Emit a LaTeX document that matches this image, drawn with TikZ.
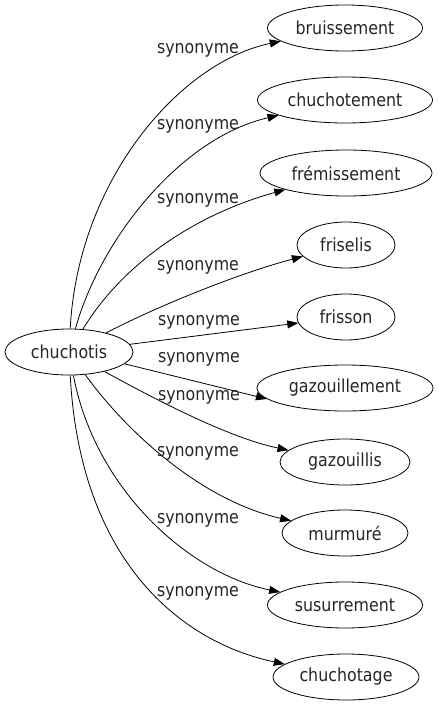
\documentclass[tikz,border=0pt]{standalone}
\usepackage{fontspec}
\setmainfont{DejaVu Sans}[FakeStretch=0.88]
\usetikzlibrary{shapes.geometric,arrows.meta}
\begin{document}
\begin{tikzpicture}[x=1pt,y=-1pt,
  word/.style={draw,ellipse,line width=0.8pt,minimum height=46pt,inner sep=0pt,font=\fontsize{18}{20}\selectfont,text=black!85},
  lab/.style={font=\fontsize{18}{20}\selectfont,text=black!85,inner sep=0pt},
  edge/.style={draw,line width=0.8pt,-{Triangle[length=11pt,width=8pt]}}]
\useasboundingbox (0,0) rectangle (439,707);
\node[word,minimum width=128pt] (c) at (69,352) {chuchotis};
\node[word,minimum width=155pt] (b1) at (345,28) {bruissement};
\node[word,minimum width=175pt] (b2) at (345,100) {chuchotement};
\node[word,minimum width=172pt] (b3) at (346,173) {frémissement};
\node[word,minimum width=98pt] (b4) at (346,245) {friselis};
\node[word,minimum width=98pt] (b5) at (346,317) {frisson};
\node[word,minimum width=176pt] (b6) at (345,388) {gazouillement};
\node[word,minimum width=130pt] (b7) at (345,462) {gazouillis};
\node[word,minimum width=126pt] (b8) at (345,533) {murmuré};
\node[word,minimum width=155pt] (b9) at (345,605) {susurrement};
\node[word,minimum width=146pt] (b10) at (346,677) {chuchotage};
\draw[edge] (c) .. controls (78,180) and (180,62) .. (b1);
\draw[edge] (c) .. controls (100,240) and (180,138) .. (b2);
\draw[edge] (c) .. controls (125,260) and (200,213) .. (b3);
\draw[edge] (c) .. controls (160,305) and (240,273) .. (b4);
\draw[edge] (c) -- (b5);
\draw[edge] (c.-12) -- (b6.188);
\draw[edge] (c) .. controls (160,402) and (230,438) .. (b7);
\draw[edge] (c) .. controls (125,430) and (200,500) .. (b8);
\draw[edge] (c) .. controls (95,490) and (190,574) .. (b9);
\draw[edge] (c) .. controls (80,560) and (180,642) .. (b10);
\node[lab] (l1) at (198,50) {synonyme};
\node[lab] (l2) at (198,126) {synonyme};
\node[lab] (l3) at (198,200) {synonyme};
\node[lab] (l4) at (198,267) {synonyme};
\node[lab] (l5) at (199,322) {synonyme};
\node[lab] (l6) at (199,359) {synonyme};
\node[lab] (l7) at (199,397) {synonyme};
\node[lab] (l8) at (198,453) {synonyme};
\node[lab] (l9) at (198,520) {synonyme};
\node[lab] (l10) at (198,593) {synonyme};
\end{tikzpicture}
\end{document}
